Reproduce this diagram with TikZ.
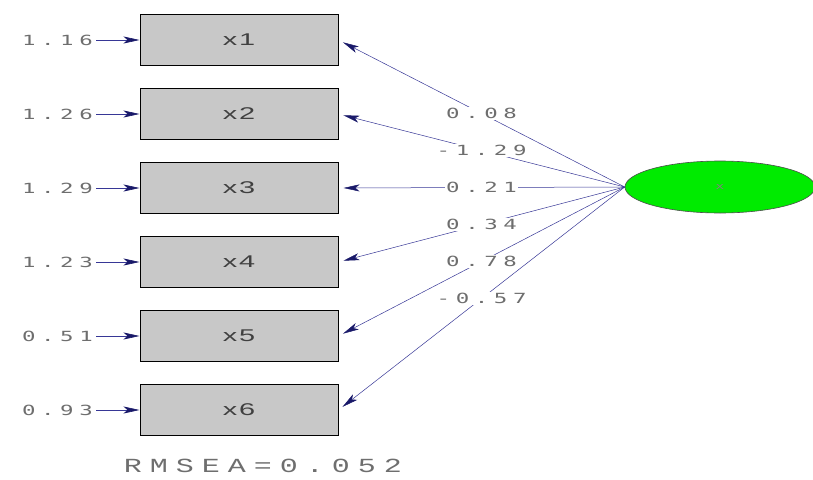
\documentclass[tikz,border=0pt]{standalone}
\usepackage{fontspec}
\setmainfont{Liberation Sans}
\newfontfamily\numfont[FakeStretch=1.6, LetterSpace=40]{DejaVu Sans Mono}
\newfontfamily\fitfont[FakeStretch=1.5, LetterSpace=40]{Liberation Mono}
\newfontfamily\boxfont[FakeStretch=1.7, LetterSpace=10]{Liberation Sans}
\usetikzlibrary{arrows.meta}
\usetikzlibrary{shapes.geometric}

\definecolor{pathblue}{RGB}{55,55,150}
\definecolor{tipnavy}{RGB}{25,25,105}
\definecolor{labgray}{RGB}{110,110,110}
\definecolor{boxgray}{RGB}{200,200,200}
\definecolor{latgreen}{RGB}{0,235,0}

\tikzset{
  obsbox/.style={draw=black, line width=1pt, fill=boxgray,
    minimum width=198pt, minimum height=51pt, inner sep=0pt,
    font=\boxfont\fontsize{17}{17}\selectfont, text=black!75},
  latnode/.style={ellipse, draw=black!70, line width=0.6pt, fill=latgreen,
    minimum width=190pt, minimum height=52pt, inner sep=0pt,
    font=\numfont\fontsize{9}{9}\selectfont, text=black!50},
  errlab/.style={font=\numfont\fontsize{14}{14}\selectfont, text=labgray,
    inner sep=0pt, anchor=east},
  loadlab/.style={font=\numfont\fontsize{14}{14}\selectfont, text=labgray,
    fill=white, inner sep=1pt},
  resarrow/.style={draw=pathblue, line width=0.6pt,
    -{Stealth[length=16pt, width=7pt, inset=4pt, color=tipnavy]}},
  loadarrow/.style={draw=pathblue, line width=0.5pt, shorten >=5pt,
    -{Stealth[length=16pt, width=7pt, inset=4pt, color=tipnavy]}}
}

\begin{document}
\begin{tikzpicture}[x=1pt, y=-1pt]
  \useasboundingbox (0,0) rectangle (813,479);
  % latent variable
  \node[latnode] (lat) at (720,187) {x};
  % observed boxes with their error variances
  \foreach \i/\y/\e in {1/40/1.16, 2/114/1.26, 3/188/1.29,
                        4/262/1.23, 5/336/0.51, 6/410/0.93} {
    \node[obsbox] (x\i) at (239,\y) {x\i};
    \node[errlab] (e\i) at (93,\y) {\e};
    \draw[resarrow] ([xshift=3pt]e\i.east) -- (x\i.west);
  }
  % loadings
  \foreach \i/\l in {1/0.08, 2/-1.29, 3/0.21, 4/0.34, 5/0.78, 6/-0.57}
    \draw[loadarrow] (lat.west) -- node[loadlab] (l\i) {\l} (x\i.east);
  % fit index
  \node[font=\fitfont\fontsize{20}{20}\selectfont, text=labgray]
    (fit) at (263,466) {RMSEA=0.052};
\end{tikzpicture}
\end{document}
